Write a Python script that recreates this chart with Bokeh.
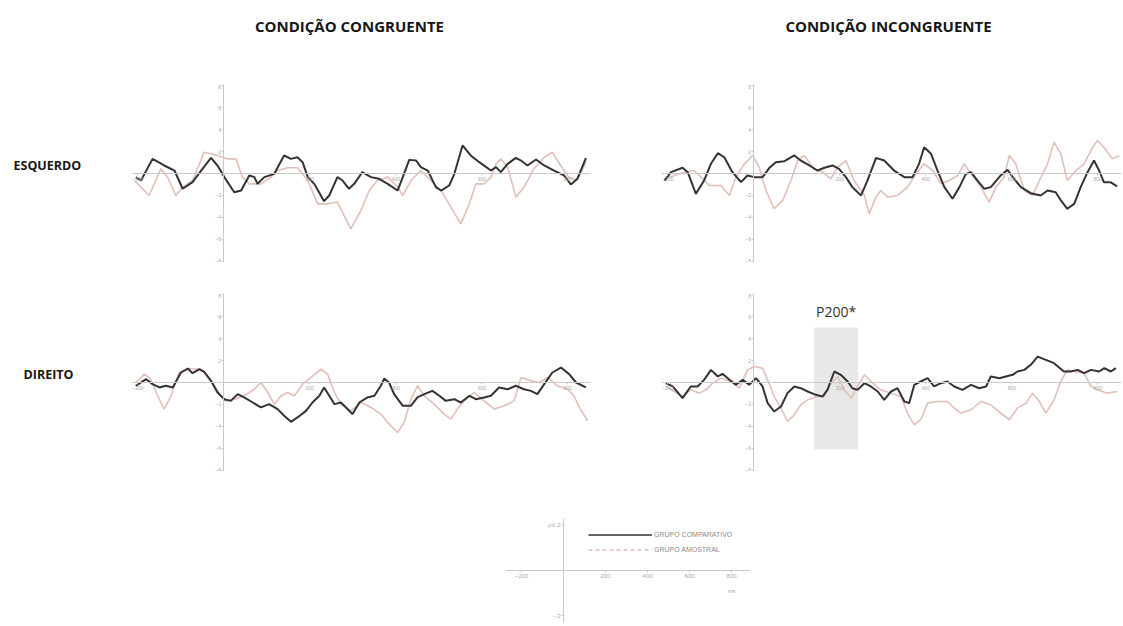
from bokeh.plotting import figure
from bokeh.layouts import column, row
from bokeh.models import (Range1d, LinearAxis, FixedTicker, BoxAnnotation, Spacer,
                          Legend, LegendItem)
from bokeh.core.properties import value
from bokeh.embed import file_html
from bokeh.resources import INLINE

# Grand-average ERP waveforms: (time in ms, amplitude in µV)
cong_esq_comp = [(-205, -0.33), (-193, -0.64), (-166, 1.33), (-139, 0.73), (-115, 0.27), (-96, -1.39),
                 (-73, -0.79), (-53, 0.27), (-30, 1.42), (-15, 0.73), (1, -0.33), (24, -1.70),
                 (40, -1.55), (59, -0.18), (71, -0.33), (78, -0.94), (94, -0.33), (117, -0.03),
                 (140, 1.64), (156, 1.33), (171, 1.48), (183, 1.03), (195, -0.33), (210, -0.94),
                 (233, -2.52), (245, -2.0), (264, -0.33), (276, -0.64), (291, -1.39), (303, -0.94),
                 (322, 0.12), (342, -0.33), (361, -0.48), (381, -0.94), (404, -1.55), (416, -0.33),
                 (431, 1.24), (447, 1.18), (458, 0.58), (474, 0.27), (493, -1.24), (505, -1.55),
                 (524, -1.09), (536, -0.03), (555, 2.55), (574, 1.64), (594, 1.03), (621, 0.27),
                 (633, 0.58), (644, 0.12), (660, 0.88), (679, 1.42), (691, 1.18), (706, 0.73),
                 (726, 1.27), (745, 0.73), (768, 0.27), (791, -0.18), (807, -1.0), (822, -0.48),
                 (842, 1.39)]
cong_esq_amos = [(-208, -0.64), (-193, -1.24), (-174, -2.0), (-147, 0.42), (-131, -0.33), (-112, -2.0),
                 (-96, -1.24), (-73, -0.64), (-46, 1.94), (-15, 1.64), (9, 1.33), (28, 1.33),
                 (43, -0.33), (59, -0.94), (86, -0.94), (109, -0.33), (125, 0.27), (148, 0.52),
                 (171, 0.52), (195, -0.64), (218, -2.76), (241, -2.76), (264, -2.6), (295, -5.03),
                 (319, -3.36), (338, -1.55), (357, -0.64), (381, -0.33), (404, -1.24), (416, -2.0),
                 (435, -0.64), (458, 0.27), (481, -0.64), (505, -1.55), (528, -3.06), (551, -4.58),
                 (571, -2.76), (586, -0.94), (605, -0.94), (621, -0.33), (633, 0.88), (644, 1.33),
                 (660, 0.58), (679, -2.15), (698, -1.24), (721, 0.42), (745, 1.48), (764, 1.94),
                 (783, 0.73), (802, -0.33), (822, -0.64), (842, 1.03)]

incong_esq_comp = [(-208, -0.64), (-193, 0.12), (-166, 0.52), (-154, 0.12), (-135, -1.85), (-116, -0.64),
                   (-100, 0.88), (-84, 1.85), (-69, 1.48), (-50, 0.12), (-30, -0.79), (-15, -0.18),
                   (1, -0.33), (20, -0.33), (36, 0.52), (51, 1.03), (71, 1.12), (94, 1.64),
                   (109, 1.18), (129, 0.73), (148, 0.27), (164, 0.52), (183, 0.73), (198, 0.42),
                   (214, -0.33), (229, -1.24), (249, -2.0), (264, -0.64), (284, 1.42), (303, 1.18),
                   (326, 0.27), (350, -0.33), (369, -0.33), (384, 0.88), (396, 2.39), (412, 1.79),
                   (427, 0.27), (443, -1.24), (462, -2.3), (478, -1.24), (493, -0.03), (505, 0.12),
                   (520, -0.64), (536, -1.39), (551, -1.24), (574, -0.18), (590, 0.33), (605, -0.48),
                   (621, -1.24), (644, -1.79), (667, -2.0), (683, -1.55), (702, -1.70), (714, -2.45),
                   (729, -3.21), (745, -2.76), (760, -1.24), (776, 0.12), (791, 1.18), (803, 0.27),
                   (814, -0.79), (829, -0.79), (845, -1.18)]
incong_esq_amos = [(-208, -0.48), (-185, -0.18), (-162, 0.12), (-139, 0.27), (-123, -0.33), (-104, -1.09),
                   (-77, -1.09), (-57, -2.0), (-42, -0.33), (-22, 0.88), (-3, 1.64), (12, 0.58),
                   (28, -1.55), (47, -3.21), (67, -2.45), (86, -0.64), (102, 1.18), (117, 1.64),
                   (140, 0.42), (160, 0.12), (179, -0.48), (195, 0.58), (214, 1.18), (233, -0.64),
                   (257, -2.0), (268, -3.67), (284, -2.15), (295, -1.55), (311, -2.15), (334, -2.0),
                   (357, -1.24), (377, -0.03), (396, 0.88), (416, 0.27), (435, -0.94), (454, -0.64),
                   (474, -0.18), (489, 0.88), (505, -0.03), (528, -1.24), (547, -2.6), (563, -1.24),
                   (582, -0.33), (594, 1.64), (609, 0.88), (629, -1.55), (648, -2.0), (664, -0.64),
                   (683, 0.88), (698, 2.85), (714, 1.79), (729, -0.64), (749, 0.27), (768, 0.88),
                   (788, 2.39), (799, 3.0), (814, 2.39), (834, 1.33), (850, 1.64)]

cong_dir_comp = [(-205, -0.30), (-181, 0.30), (-166, -0.15), (-150, -0.45), (-135, -0.30), (-119, -0.45),
                 (-100, 0.91), (-84, 1.27), (-73, 0.85), (-57, 1.21), (-46, 0.97), (-30, 0.15),
                 (-15, -0.91), (1, -1.52), (16, -1.67), (32, -1.06), (47, -1.36), (67, -1.82),
                 (86, -2.27), (105, -1.97), (125, -2.42), (140, -3.03), (156, -3.58), (171, -3.18),
                 (191, -2.58), (206, -1.82), (222, -1.21), (233, -0.45), (245, -1.21), (257, -1.97),
                 (272, -1.82), (284, -2.27), (299, -2.88), (315, -1.82), (334, -1.36), (350, -1.21),
                 (365, -0.30), (373, 0.36), (384, 0.0), (396, -1.06), (416, -2.12), (435, -2.12),
                 (450, -1.36), (466, -1.06), (485, -0.76), (501, -1.21), (516, -1.67), (536, -1.52),
                 (551, -1.82), (571, -1.21), (586, -1.52), (605, -1.36), (621, -1.21), (640, -0.45),
                 (660, -0.61), (679, -0.30), (698, -0.61), (714, -0.76), (729, -1.06), (745, -0.15),
                 (764, 0.91), (784, 1.36), (803, 0.76), (819, 0.0), (842, -0.45)]
cong_dir_amos = [(-205, 0.0), (-185, 0.76), (-170, 0.30), (-154, -1.21), (-139, -2.42), (-123, -1.21),
                 (-104, 0.91), (-84, 1.27), (-61, 1.21), (-46, 0.97), (-22, -0.30), (1, -1.67),
                 (24, -1.52), (47, -1.21), (71, -0.61), (86, 0.0), (102, -0.91), (117, -1.97),
                 (133, -1.21), (148, -0.91), (164, -1.21), (183, -0.15), (202, 0.45), (226, 1.21),
                 (241, 0.76), (257, -0.91), (272, -1.97), (295, -2.58), (319, -1.82), (342, -2.27),
                 (365, -2.88), (388, -3.94), (404, -4.55), (419, -3.64), (435, -1.52), (450, -0.30),
                 (466, -1.21), (489, -1.97), (512, -2.88), (528, -3.33), (543, -2.42), (559, -1.67),
                 (582, -0.91), (605, -1.67), (629, -2.42), (652, -2.12), (675, -1.67), (691, 0.45),
                 (714, 0.15), (733, 0.0), (753, 0.45), (776, -0.30), (799, -0.61), (814, -1.21),
                 (829, -2.42), (846, -3.48)]

incong_dir_comp = [(-205, -0.06), (-189, -0.36), (-166, -1.42), (-147, -0.36), (-131, -0.36), (-116, 0.24),
                   (-100, 1.15), (-84, 0.55), (-73, 0.79), (-57, 0.24), (-42, -0.21), (-26, 0.24),
                   (-11, -0.21), (5, 0.39), (20, -0.36), (32, -1.88), (47, -2.64), (63, -2.18),
                   (78, -0.97), (94, -0.36), (109, -0.52), (125, -0.82), (144, -1.12), (160, -1.27),
                   (171, -0.67), (187, 1.0), (202, 0.70), (218, 0.09), (229, -0.52), (241, -0.67),
                   (257, -0.06), (272, -0.36), (288, -0.82), (303, -1.58), (319, -0.82), (334, -0.52),
                   (350, -1.73), (361, -1.88), (373, -0.21), (388, 0.09), (404, 0.39), (419, -0.36),
                   (435, -0.06), (450, 0.09), (466, -0.36), (485, -0.67), (505, -0.21), (524, -0.52),
                   (540, -0.36), (551, 0.55), (571, 0.39), (586, 0.55), (602, 0.70), (613, 1.0),
                   (629, 1.15), (644, 1.61), (660, 2.36), (679, 2.06), (698, 1.76), (721, 1.0),
                   (737, 1.0), (753, 1.15), (768, 0.85), (784, 1.15), (803, 1.0), (815, 1.30),
                   (830, 1.0), (842, 1.30)]
incong_dir_amos = [(-205, -0.36), (-185, -0.82), (-166, -1.27), (-147, -0.67), (-127, -0.97), (-112, -0.67),
                   (-96, -0.06), (-77, 0.39), (-53, 0.09), (-34, -0.52), (-15, 1.15), (1, 1.45),
                   (20, 1.30), (32, 0.24), (47, -1.27), (67, -2.64), (78, -3.55), (94, -2.94),
                   (109, -2.03), (125, -1.58), (148, -1.27), (164, -1.27), (179, -0.06), (195, 0.55),
                   (210, -0.67), (226, -1.42), (241, -0.36), (257, 0.70), (276, -0.06), (295, -0.67),
                   (319, -0.97), (342, -1.27), (357, -2.79), (373, -3.85), (388, -3.39), (404, -1.88),
                   (427, -1.73), (450, -1.73), (466, -2.33), (481, -2.79), (505, -2.48), (528, -1.73),
                   (551, -2.03), (574, -2.79), (594, -3.39), (613, -2.33), (633, -1.88), (648, -0.97),
                   (664, -1.73), (679, -2.79), (698, -1.58), (714, 0.09), (729, 1.15), (745, 1.0),
                   (768, 0.85), (784, -0.36), (799, -0.67), (822, -0.97), (845, -0.82)]

# P200 analysis window (ms) and its significance label
p200_window = (140, 242)
p200_extent = (-6.1, 5.0)
p200_label = "P200*"

condition_titles = ["CONDIÇÃO CONGRUENTE", "CONDIÇÃO INCONGRUENTE"]
hemisphere_labels = ["ESQUERDO", "DIREITO"]
group_names = ["GRUPO COMPARATIVO", "GRUPO AMOSTRAL"]

x_ticks = [-200, 200, 400, 600, 800]
y_ticks = [-8, -6, -4, -2, 2, 4, 6, 8]
key_y_ticks = [-2, 2]

COMP_COLOR = "#333333"
AMOS_COLOR = "#e2bfb7"
AXIS_COLOR = "#c9c9c9"
TICK_TEXT = "#a8a8a8"

PW, PH = 460, 178


def base_fig(width, height, xr, yr):
    f = figure(width=width, height=height, x_range=xr, y_range=yr,
               x_axis_type=None, y_axis_type=None, toolbar_location=None,
               output_backend="svg", min_border=0, outline_line_color=None,
               background_fill_color="white", border_fill_color="white")
    f.grid.visible = False
    return f


def styled_axis(ticks, font_size, overrides=None):
    ax = LinearAxis(fixed_location=0, ticker=FixedTicker(ticks=ticks))
    ax.axis_line_color = AXIS_COLOR
    ax.axis_line_width = 1
    ax.major_tick_line_color = AXIS_COLOR
    ax.major_tick_in = 0
    ax.major_tick_out = 2
    ax.minor_tick_line_color = None
    ax.major_label_text_font_size = font_size
    ax.major_label_text_color = TICK_TEXT
    ax.major_label_text_font = "Liberation Sans"
    ax.major_label_standoff = 1
    if overrides:
        ax.major_label_overrides = overrides
    return ax


def split(pairs):
    return [p[0] for p in pairs], [p[1] for p in pairs]


def panel(comp, amos, window=None):
    f = base_fig(PW, PH, Range1d(-215, 855), Range1d(-8.1, 8.1))
    f.add_layout(styled_axis(x_ticks, "5px"), "below")
    f.add_layout(styled_axis(y_ticks, "5px"), "left")
    if window is not None:
        f.add_layout(BoxAnnotation(left=window[0], right=window[1],
                                   bottom=p200_extent[0], top=p200_extent[1],
                                   fill_color="#e8e8e8", fill_alpha=1.0, line_color=None,
                                   level="underlay"))
        f.text(x=[sum(window) / 2], y=[6.5], text=[p200_label],
               text_font=value("Open Sans"), text_font_size="14px",
               text_color="#333333", text_align="center", text_baseline="middle")
    ta, va = split(amos)
    tc, vc = split(comp)
    f.line(ta, va, line_color=AMOS_COLOR, line_width=1.6)
    f.line(tc, vc, line_color=COMP_COLOR, line_width=2.0)
    return f


# Column headers
header = base_fig(1123, 84, Range1d(0, 1123), Range1d(84, 0))
header.text(x=[349, 888], y=[25, 25], text=condition_titles,
            text_font=value("Open Sans"), text_font_style=value("bold"),
            text_font_size="15px", text_color="#161616",
            text_align="center", text_baseline="middle")


def row_label(txt, x0):
    f = base_fig(131, PH, Range1d(0, 131), Range1d(PH, 0))
    f.text(x=[x0], y=[81], text=[txt], text_font=value("Open Sans"),
           text_font_style=value("bold"), text_font_size="12.5px",
           text_color="#161616", text_align="left", text_baseline="middle")
    return f


tl = panel(cong_esq_comp, cong_esq_amos)
tr = panel(incong_esq_comp, incong_esq_amos)
bl = panel(cong_dir_comp, cong_dir_amos)
br = panel(incong_dir_comp, incong_dir_amos, window=p200_window)

# Scale key with group legend; the sample renderers sit outside the key's visible range
key = base_fig(245, 104, Range1d(-276, 890), Range1d(-2.31, 2.31))
key.add_layout(styled_axis(x_ticks, "6px"), "below")
key.add_layout(styled_axis(key_y_ticks, "6px", {2: "µV 2"}), "left")
key.text(x=[800], y=[-0.9], text=["ms"], text_font=value("Liberation Sans"),
         text_font_size="5.5px", text_color=TICK_TEXT, text_align="center",
         text_baseline="middle")
r_comp = key.line([-2000, -1900], [10, 10], line_color=COMP_COLOR, line_width=1.5)
r_amos = key.line([-2000, -1900], [10, 10], line_color="#d49c92", line_width=1.2,
                  line_dash="4 3")
legend = Legend(items=[LegendItem(label=group_names[0], renderers=[r_comp]),
                       LegendItem(label=group_names[1], renderers=[r_amos])],
                location=(83, 65), padding=0, margin=0, spacing=0,
                glyph_width=64, glyph_height=15, label_height=15, label_standoff=2,
                border_line_alpha=0, background_fill_alpha=0,
                label_text_font_size="7px", label_text_color="#8c8c8c",
                label_text_font="Liberation Sans")
key.add_layout(legend)

layout = column(
    header,
    row(row_label(hemisphere_labels[0], 13), tl, Spacer(width=70, height=PH), tr,
        Spacer(width=2, height=PH)),
    Spacer(width=1123, height=31),
    row(row_label(hemisphere_labels[1], 23), bl, Spacer(width=70, height=PH), br,
        Spacer(width=2, height=PH)),
    Spacer(width=1123, height=47),
    row(Spacer(width=505, height=104), key, Spacer(width=373, height=104)),
)

open("out.html", "w").write(file_html(layout, INLINE))
